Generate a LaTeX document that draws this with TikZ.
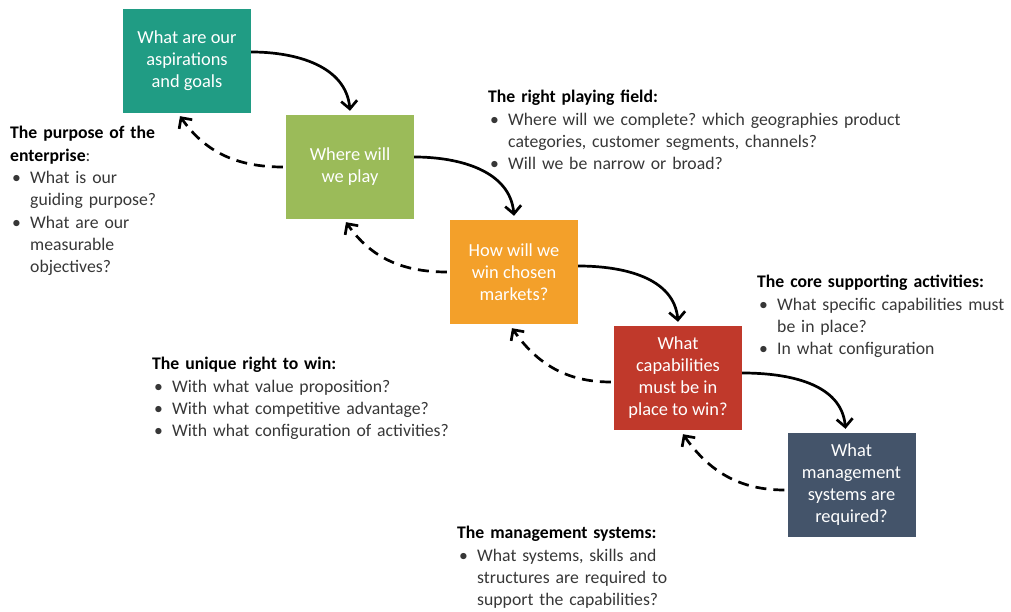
\documentclass[tikz,border=0pt]{standalone}
\usepackage{fontspec}
\setmainfont{Carlito}
\usetikzlibrary{arrows.meta}
\definecolor{cteal}{RGB}{32,156,132}
\definecolor{cgreen}{RGB}{155,187,89}
\definecolor{corange}{RGB}{243,160,42}
\definecolor{cred}{RGB}{192,57,43}
\definecolor{cslate}{RGB}{68,84,106}
\definecolor{ctext}{RGB}{55,55,55}
\newcommand{\bitem}{\makebox[20pt][l]{\hspace{2pt}\textbullet}}
\newcommand{\bcont}{\hspace*{20pt}}
\frenchspacing
\begin{document}
\begin{tikzpicture}[x=1pt,y=1pt,
  box/.style={minimum width=128pt, minimum height=104pt, inner sep=0pt, text=white, align=center, font=\fontsize{18.4}{22}\selectfont},
  note/.style={anchor=base west, inner sep=0pt, text width=480pt, align=left, text=ctext, font=\fontsize{17.7}{22.3}\selectfont},
  fwd/.style={line width=2.7pt, -{Straight Barb[length=8pt,width=16pt]}, black},
  back/.style={fwd, dash pattern=on 11pt off 7pt}
]
\useasboundingbox (0,0) rectangle (1011,612);
% boxes
\node[box, fill=cteal]  (t) at (187,551) {What are our\\aspirations\\and goals};
\node[box, fill=cgreen] (g) at (350,445) {Where will\\we play};
\node[box, fill=corange](o) at (514,340) {How will we\\win chosen\\markets?};
\node[box, fill=cred]   (r) at (678,234) {What\\capabilities\\must be in\\place to win?};
\node[box, fill=cslate] (s) at (851.5,127) {What\\management\\systems are\\required?};
% forward arrows
\draw[fwd] ([yshift=9pt]t.east) to[out=0,in=95] ([yshift=4pt]g.north);
\draw[fwd] ([yshift=10pt]g.east) to[out=0,in=95] ([yshift=4pt]o.north);
\draw[fwd] ([yshift=6pt]o.east) to[out=0,in=95] ([yshift=4pt]r.north);
\draw[fwd] ([yshift=5pt]r.east) to[out=0,in=95] ([xshift=-6pt,yshift=4pt]s.north);
% backward arrows
\draw[back] ([xshift=-3pt]g.west) to[out=180,in=-55] ([xshift=-7pt,yshift=-3pt]t.south);
\draw[back] ([xshift=-3pt]o.west) to[out=180,in=-55] ([xshift=-4pt,yshift=-3pt]g.south);
\draw[back] ([xshift=-3pt,yshift=-4pt]r.west) to[out=180,in=-55] ([xshift=-2pt,yshift=-4pt]o.south);
\draw[back] ([xshift=-3pt,yshift=-5pt]s.west) to[out=180,in=-55] ([xshift=5pt,yshift=-4pt]r.south);
% notes
\node[note] (n1) at (10,473) {{\bfseries\color{black}The purpose of the\\enterprise}:\\
\bitem What is our\\\bcont guiding purpose?\\
\bitem What are our\\\bcont measurable\\\bcont objectives?};
\node[note] (n2) at (488,509) {{\bfseries\color{black}The right playing field:}\\
\bitem Where will we complete? which geographies product\\\bcont categories, customer segments, channels?\\
\bitem Will we be narrow or broad?};
\node[note] (n3) at (757,324) {{\bfseries\color{black}The core supporting activities:}\\
\bitem What specific capabilities must\\\bcont be in place?\\
\bitem In what configuration};
\node[note] (n4) at (152,242) {{\bfseries\color{black}The unique right to win:}\\
\bitem With what value proposition?\\
\bitem With what competitive advantage?\\
\bitem With what configuration of activities?};
\node[note] (n5) at (457,73) {{\bfseries\color{black}The management systems:}\\
\bitem What systems, skills and\\\bcont structures are required to\\\bcont support the capabilities?};
\end{tikzpicture}
\end{document}
